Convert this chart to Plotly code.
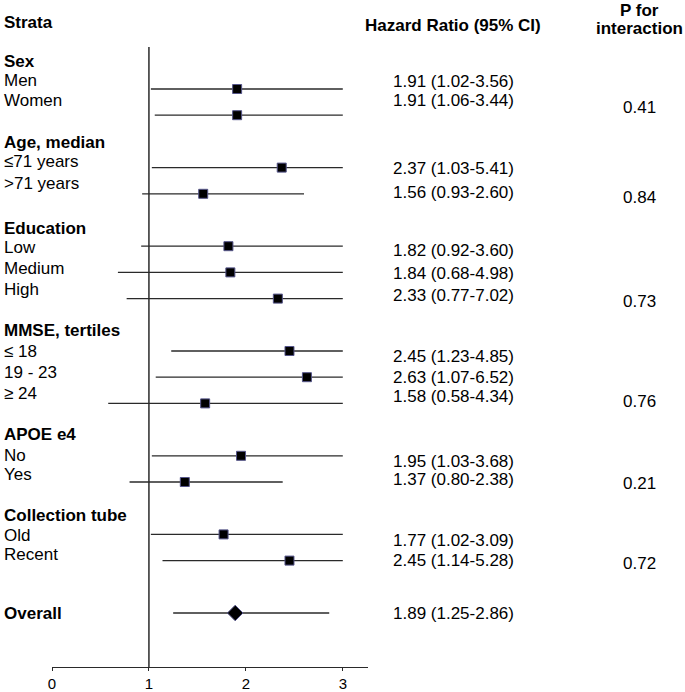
import plotly.graph_objects as go

# ---------------- data ----------------
groups = ["Sex", "Age, median", "Education", "MMSE, tertiles", "APOE e4", "Collection tube"]
group_sizes = [2, 2, 3, 3, 2, 2]
subgroups = ["Men", "Women", "≤71 years", ">71 years", "Low", "Medium", "High",
             "≤ 18", "19 - 23", "≥ 24", "No", "Yes", "Old", "Recent"]
hr = [1.91, 1.91, 2.37, 1.56, 1.82, 1.84, 2.33, 2.45, 2.63, 1.58, 1.95, 1.37, 1.77, 2.45]
ci_low = [1.02, 1.06, 1.03, 0.93, 0.92, 0.68, 0.77, 1.23, 1.07, 0.58, 1.03, 0.80, 1.02, 1.14]
ci_high = [3.56, 3.44, 5.41, 2.60, 3.60, 4.98, 7.02, 4.85, 6.52, 4.34, 3.68, 2.38, 3.09, 5.28]
p_interaction = ["0.41", "0.84", "0.73", "0.76", "0.21", "0.72"]
overall_label = "Overall"
overall_hr, overall_low, overall_high = 1.89, 1.25, 2.86
x_ticks = [0, 1, 2, 3]
x_clip = 3

# ---------------- layout helpers ----------------
W, H = 685, 692
PL, PR, PT, PB = 52, 368, 47, 667          # plot area in pixels
X_MAX = 3.26
FONT = "Arial, Liberation Sans, sans-serif"
FS = 17

def px_to_paper_x(px):
    return (px - PL) / (PR - PL)

def px_to_paper_y(py):
    return (PB - py) / (PB - PT)

ROW0, ROW_STEP = 89, 26.2                  # marker row grid (pixels)

rows = []
r = 0
for n in group_sizes:
    rows.extend(range(r, r + n))
    r += n + 1
overall_row = r
marker_y = [ROW0 + ROW_STEP * k for k in rows]
overall_y = ROW0 + ROW_STEP * overall_row

label_y_header = [62, 143, 228, 331, 435, 515]
label_y_items = [81, 101, 162, 183, 247, 268, 289, 351, 372, 393, 455, 474, 535, 554]
hr_text_y = [82, 101, 168, 192, 251, 273, 295, 356, 377, 397, 461, 479, 540, 560]
p_text_y = [107, 197, 301, 402, 483, 563]

fig = go.Figure()

lx, ly = [], []
for lo_, hi_, y in zip(ci_low, ci_high, marker_y):
    lx += [lo_, min(hi_, x_clip), None]
    ly += [y, y, None]
lx += [overall_low, min(overall_high, x_clip)]
ly += [overall_y, overall_y]
fig.add_trace(go.Scatter(x=lx, y=ly, mode="lines",
                         line=dict(color="#2a2a2a", width=1.3),
                         hoverinfo="skip", showlegend=False))

fig.add_trace(go.Scatter(x=hr, y=marker_y, mode="markers",
                         marker=dict(symbol="square", size=9, color="black",
                                     line=dict(color="#55558a", width=1)),
                         showlegend=False))
fig.add_trace(go.Scatter(x=[overall_hr], y=[overall_y], mode="markers",
                         marker=dict(symbol="diamond", size=12, color="black",
                                     line=dict(color="#55558a", width=1)),
                         showlegend=False))

fig.add_shape(type="line", x0=1, x1=1, y0=PT, y1=PB, xref="x", yref="y",
              line=dict(color="#2a2a2a", width=1.5))

ann = []
def add_text(text, px, py, bold=False, anchor="left", size=FS):
    ann.append(dict(x=px_to_paper_x(px), y=px_to_paper_y(py), xref="paper", yref="paper",
                    text=f"<b>{text}</b>" if bold else text,
                    showarrow=False, xanchor=anchor, yanchor="middle",
                    font=dict(family=FONT, size=size, color="black")))

add_text("Strata", 2, 22, bold=True)
add_text("Hazard Ratio (95% CI)", 453, 25, bold=True, anchor="center")
add_text("P for", 639, 10, bold=True, anchor="center")
add_text("interaction", 639, 29, bold=True, anchor="center")

for g, y in zip(groups, label_y_header):
    add_text(g, 2, y, bold=True)
for s, y in zip(subgroups, label_y_items):
    add_text(s, 2, y)
add_text(overall_label, 2, overall_y, bold=True)

for h, lo_, hi_, y in zip(hr, ci_low, ci_high, hr_text_y):
    add_text(f"{h:.2f} ({lo_:.2f}-{hi_:.2f})", 453, y, anchor="center")
add_text(f"{overall_hr:.2f} ({overall_low:.2f}-{overall_high:.2f})", 453, overall_y, anchor="center")

for p, y in zip(p_interaction, p_text_y):
    add_text(p, 639, y, anchor="center")

fig.update_layout(
    width=W, height=H,
    margin=dict(l=PL, r=W - PR, t=PT, b=H - PB, pad=0),
    paper_bgcolor="white", plot_bgcolor="white",
    annotations=ann, showlegend=False,
    xaxis=dict(range=[0, X_MAX], tickvals=x_ticks, ticktext=[str(t) for t in x_ticks],
               showgrid=False, zeroline=False, showline=True, linecolor="#2a2a2a",
               linewidth=1.3, ticks="outside", ticklen=3, tickcolor="#2a2a2a",
               tickwidth=1.3, tickfont=dict(family=FONT, size=15, color="black"),
               automargin=False, fixedrange=True),
    yaxis=dict(range=[PB, PT], visible=False, automargin=False, fixedrange=True),
)

fig.write_html("out.html", config={"displayModeBar": False},
               post_script="document.body.style.margin='0px';document.body.style.overflow='hidden';")
